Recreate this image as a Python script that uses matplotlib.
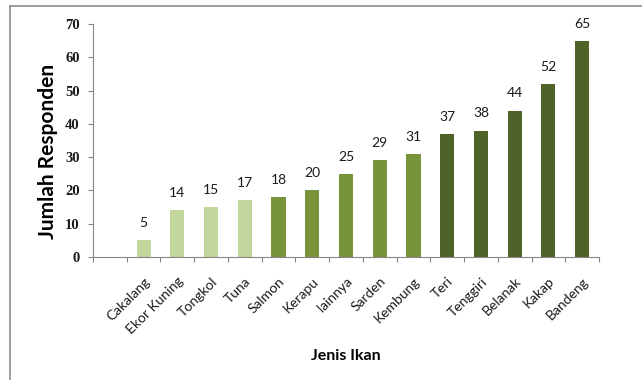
import matplotlib

matplotlib.use("Agg")
import matplotlib.pyplot as plt
from matplotlib.lines import Line2D

# first slot is an empty category, as in the source chart
categories = ["", "Cakalang", "Ekor Kuning", "Tongkol", "Tuna", "Salmon", "Kerapu",
              "lainnya", "Sarden", "Kembung", "Teri", "Tenggiri", "Belanak",
              "Kakap", "Bandeng"]
values = [None, 5, 14, 15, 17, 18, 20, 25, 29, 31, 37, 38, 44, 52, 65]
groups = [None, 0, 0, 0, 0, 1, 1, 1, 1, 1, 2, 2, 2, 2, 2]
group_colors = ["#C3D69B", "#77933C", "#4F6228"]

fig = plt.figure(figsize=(6.42, 3.80), dpi=100)
ax = fig.add_axes([93 / 642, 1 - 257 / 380, (599 - 93) / 642, (257 - 24) / 380])

for i, (v, g) in enumerate(zip(values, groups)):
    if v is None:
        continue
    ax.bar(i + 0.5, v, width=0.42, color=group_colors[g], zorder=2)
    ax.annotate(str(v), (i + 0.5, v), xytext=(0, 8), textcoords="offset points",
                ha="center", va="bottom", fontsize=10, family="Lato", color="#1a1a1a")

ax.set_xlim(0, len(categories))
ax.set_ylim(0, 70)
ax.set_yticks(range(0, 71, 10))
ax.set_yticklabels([str(t) for t in range(0, 71, 10)], family="Liberation Serif",
                   fontsize=10.5, fontweight="bold", color="#1a1a1a")
ax.set_xticks(range(0, len(categories) + 1))
ax.set_xticklabels([])
ax.set_xticks([i + 0.5 for i in range(len(categories))], minor=True)
ax.set_xticklabels(categories, minor=True, rotation=45, ha="right",
                   rotation_mode="anchor", family="Lato", fontsize=10, color="#1a1a1a")
ax.tick_params(axis="x", which="minor", length=0, pad=13)
ax.tick_params(axis="x", which="major", length=3.6, color="#868686", direction="out")
ax.tick_params(axis="y", length=3.6, color="#868686", pad=6)

for side in ["top", "right"]:
    ax.spines[side].set_visible(False)
for side in ["left", "bottom"]:
    ax.spines[side].set_color("#868686")

ax.set_ylabel("Jumlah Responden", family="Lato", fontsize=15, fontweight="bold")
ax.yaxis.set_label_coords(-0.069, 0.455)
ax.set_xlabel("Jenis Ikan", family="Lato", fontsize=11.5, fontweight="bold")
ax.xaxis.set_label_coords(0.5, -0.393)

# outer chart-area border (only top and left edges are visible in the crop)
fig.add_artist(Line2D([10 / 642, 10 / 642], [0, 1 - 6 / 380], transform=fig.transFigure,
                      color="#8C8C8C", linewidth=1.2))
fig.add_artist(Line2D([10 / 642, 1], [1 - 6 / 380, 1 - 6 / 380], transform=fig.transFigure,
                      color="#8C8C8C", linewidth=1.2))

fig.savefig("out.png", dpi=100)
